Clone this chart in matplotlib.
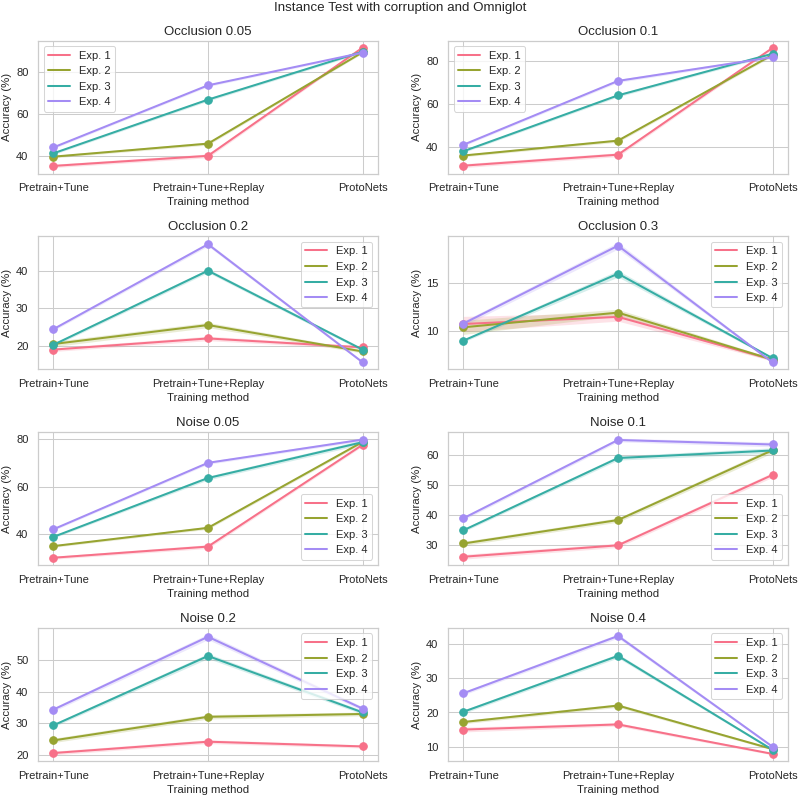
import numpy as np
import matplotlib
matplotlib.use("Agg")
import matplotlib.pyplot as plt
import seaborn as sns

sns.set_theme(style="whitegrid")
plt.rcParams['font.family'] = ['Liberation Sans', 'DejaVu Sans']

methods = ["Pretrain+Tune", "Pretrain+Tune+Replay", "ProtoNets"]
experiments = ["Exp. 1", "Exp. 2", "Exp. 3", "Exp. 4"]
titles = ["Occlusion 0.05", "Occlusion 0.1", "Occlusion 0.2", "Occlusion 0.3",
          "Noise 0.05", "Noise 0.1", "Noise 0.2", "Noise 0.4"]

# mean accuracy per panel: rows = Exp. 1..4, columns = methods
occ_005 = [[35.4, 40.2, 91.6], [39.8, 46.0, 89.4], [41.4, 66.9, 89.7], [44.2, 73.7, 89.2]]
occ_01 = [[31.5, 36.6, 86.1], [36.2, 43.1, 82.9], [38.2, 64.1, 83.4], [41.2, 70.8, 81.8]]
occ_02 = [[18.9, 21.9, 19.5], [20.4, 25.5, 18.4], [20.2, 40.1, 18.9], [24.4, 47.2, 15.5]]
occ_03 = [[10.7, 11.45, 6.95], [10.35, 11.9, 6.95], [8.95, 16.0, 7.1], [10.75, 18.95, 6.65]]
noise_005 = [[30.1, 34.8, 77.7], [35.0, 42.7, 78.9], [38.9, 63.7, 78.8], [42.1, 70.1, 79.9]]
noise_01 = [[26.2, 30.0, 53.4], [30.6, 38.4, 61.6], [35.0, 59.0, 61.5], [39.0, 65.0, 63.5]]
noise_02 = [[20.5, 24.1, 22.6], [24.5, 32.0, 32.9], [29.3, 51.3, 33.4], [34.3, 57.4, 34.6]]
noise_04 = [[15.0, 16.5, 7.9], [17.2, 22.0, 9.3], [20.2, 36.5, 9.1], [25.6, 42.3, 10.0]]

# confidence-band half widths (same layout)
occ_005_ci = [[0.8, 0.9, 0.5], [0.6, 0.7, 0.5], [0.6, 0.7, 0.6], [0.6, 0.6, 0.5]]
occ_01_ci = [[0.9, 0.9, 0.6], [0.6, 0.7, 0.6], [0.6, 0.7, 0.6], [0.6, 0.7, 0.6]]
occ_02_ci = [[0.5, 0.6, 0.4], [0.7, 0.7, 0.4], [0.4, 0.5, 0.4], [0.4, 0.5, 0.3]]
occ_03_ci = [[0.8, 0.45, 0.15], [0.75, 0.35, 0.15], [0.15, 0.35, 0.1], [0.25, 0.35, 0.1]]
noise_005_ci = [[0.6, 0.8, 0.6], [0.5, 0.6, 0.6], [0.5, 0.8, 0.9], [0.5, 0.6, 0.6]]
noise_01_ci = [[0.8, 0.7, 0.8], [0.7, 0.7, 0.9], [0.5, 0.7, 0.9], [0.6, 0.6, 0.8]]
noise_02_ci = [[0.6, 0.6, 0.5], [0.7, 0.7, 0.6], [0.5, 0.8, 0.6], [0.6, 0.9, 0.6]]
noise_04_ci = [[0.7, 0.5, 0.3], [0.5, 0.5, 0.3], [0.5, 0.6, 0.3], [0.5, 0.6, 0.3]]

panels = [occ_005, occ_01, occ_02, occ_03, noise_005, noise_01, noise_02, noise_04]
panel_cis = [occ_005_ci, occ_01_ci, occ_02_ci, occ_03_ci, noise_005_ci, noise_01_ci, noise_02_ci, noise_04_ci]
yticks = [[40, 60, 80], [40, 60, 80], [20, 30, 40], [10, 15],
          [40, 60, 80], [30, 40, 50, 60], [20, 30, 40, 50], [10, 20, 30, 40]]
legend_locs = ["upper left", "upper left", "upper right", "upper right",
               "lower right", "lower right", "upper right", "upper right"]

colors = sns.color_palette("husl", 4)

fig, axes = plt.subplots(4, 2, figsize=(11, 10.96), dpi=800 / 11)
fig.subplots_adjust(left=0.0475, right=0.985, bottom=0.0452, top=0.949,
                    wspace=0.206, hspace=0.471)
x = np.arange(len(methods))
for ax, title, vals, cis, yt, loc in zip(axes.flat, titles, panels, panel_cis, yticks, legend_locs):
    for i, exp in enumerate(experiments):
        v = np.array(vals[i])
        c = np.array(cis[i])
        ax.fill_between(x, v - c, v + c, color=colors[i], alpha=0.2, linewidth=0)
        ax.plot(x, v, color=colors[i], linewidth=2, label=exp)
        ax.plot(x, v, color=colors[i], linestyle="none", marker="o", markersize=7.5)
    ax.set_xticks(x)
    ax.set_xticklabels(methods, fontsize=11)
    ax.set_yticks(yt)
    ax.tick_params(axis="y", labelsize=11)
    ax.set_title(title, fontsize=13.2)
    ax.set_xlabel("Training method", fontsize=11.3)
    ax.set_ylabel("Accuracy (%)", fontsize=11.3)
    ax.legend(loc=loc, fontsize=11)

fig.suptitle("Instance Test with corruption and Omniglot", fontsize=13.3, y=0.997)
fig.savefig("out.png", dpi=800 / 11)
